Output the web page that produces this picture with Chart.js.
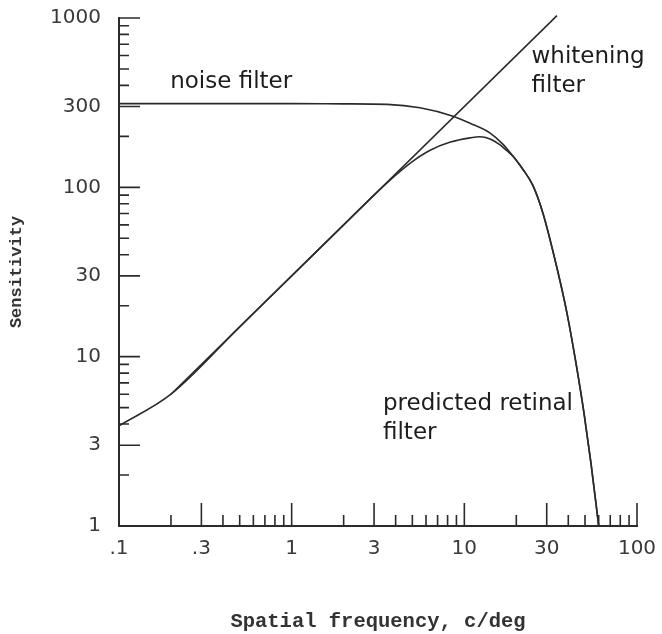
<!DOCTYPE html>
<html>
<head>
<meta charset="utf-8">
<script src="https://cdn.jsdelivr.net/npm/chart.js@4/dist/chart.umd.min.js"></script>
<style>
  html, body { margin: 0; padding: 0; background: #fff; }
  #wrap { width: 662px; height: 634px; }
</style>
</head>
<body>
<div id="wrap"><canvas id="filters" width="662" height="634"></canvas></div>
<script>
'use strict'

// spatial frequency (c/deg) and sensitivity
const retinalFreq = [0.1, 0.2, 0.5, 1, 2, 3, 4, 5, 6.3, 8.3, 10.8, 12.3, 14.1, 16.1, 17.7, 19.1, 21.8, 24.9, 28.5, 34.4, 39.3, 44.3, 49.3, 54.1, 60]
const retinalSens = [3.9, 6.0, 15, 30, 60, 90, 118, 142, 165, 185, 196, 199, 193, 178, 164, 153, 128, 103, 70.6, 33.4, 18.1, 9.18, 4.65, 2.36, 1.0]

const noiseFreq = [0.1, 1, 2, 3.57, 5.54, 8.6, 10.8, 14.1, 16.7, 19.1, 21.8, 24.9, 28.5, 34.4, 39.3, 44.3, 49.3, 54.1, 60]
const noiseSens = [312, 312, 311, 309, 295, 263, 239, 209, 180, 153, 128, 103, 70.6, 33.4, 18.1, 9.18, 4.65, 2.36, 1.0]

const whiteFreq = [0.2, 34.4]
const whiteSens = [6, 1032]

// axis labels
const xTicks = [0.1, 0.3, 1, 3, 10, 30, 100]
const xLabels = ['.1', '.3', '1', '3', '10', '30', '100']
const yTicks = [1, 3, 10, 30, 100, 300, 1000]
const yLabels = ['1', '3', '10', '30', '100', '300', '1000']

const toPoints = (xs, ys) => xs.map((x, i) => ({ x: x, y: ys[i] }))

const ink = '#2b2b2b'
const tickFont = { family: 'DejaVu Sans', size: 20 }
const noteFont = '23px "DejaVu Sans"'

// minor ticks on each decade, majors at 1 and 3
function logTicks(min, max) {
  const out = []
  for (let d = min; d < max * 1.001; d *= 10) {
    for (let m = 1; m <= 9; m++) {
      const v = d * m
      if (v > max * 1.001) break
      out.push({ v: v, major: m === 1 || m === 3 })
    }
  }
  return out
}

// tick marks pointing into the plot
const inwardTicks = {
  id: 'inwardTicks',
  afterDatasetsDraw(chart) {
    const { ctx, chartArea, scales } = chart
    ctx.save()
    ctx.strokeStyle = ink
    ctx.lineWidth = 1.6
    ctx.beginPath()
    logTicks(0.1, 100).forEach(t => {
      const px = scales.x.getPixelForValue(t.v)
      const len = t.major ? 23 : 11
      ctx.moveTo(px, chartArea.bottom)
      ctx.lineTo(px, chartArea.bottom - len)
    })
    logTicks(1, 1000).forEach(t => {
      const py = scales.y.getPixelForValue(t.v)
      const len = t.major ? 21 : 10
      ctx.moveTo(chartArea.left, py)
      ctx.lineTo(chartArea.left + len, py)
    })
    ctx.stroke()
    ctx.restore()
  }
}

// curve names, anchored in data coordinates
const notes = [
  { lines: ['noise filter'], x: 0.198, y: 386 },
  { lines: ['whitening', 'filter'], x: 24.5, y: 543 },
  { lines: ['predicted retinal', 'filter'], x: 3.38, y: 4.84 }
]

const curveNotes = {
  id: 'curveNotes',
  afterDraw(chart) {
    const { ctx, scales } = chart
    ctx.save()
    ctx.font = noteFont
    ctx.fillStyle = '#1c1c1c'
    ctx.textAlign = 'left'
    ctx.textBaseline = 'alphabetic'
    notes.forEach(n => {
      const px = scales.x.getPixelForValue(n.x)
      const py = scales.y.getPixelForValue(n.y)
      n.lines.forEach((line, i) => ctx.fillText(line, px, py + i * 29))
    })
    ctx.restore()
  }
}

const lineStyle = {
  borderColor: ink,
  borderWidth: 1.6,
  pointRadius: 0,
  fill: false
}

new Chart(document.getElementById('filters'), {
  type: 'line',
  data: {
    datasets: [
      { ...lineStyle, label: 'noise filter', data: toPoints(noiseFreq, noiseSens), cubicInterpolationMode: 'monotone' },
      { ...lineStyle, label: 'predicted retinal filter', data: toPoints(retinalFreq, retinalSens), cubicInterpolationMode: 'monotone' },
      { ...lineStyle, label: 'whitening filter', data: toPoints(whiteFreq, whiteSens), clip: false }
    ]
  },
  options: {
    responsive: false,
    animation: false,
    events: [],
    layout: { padding: { top: 18, right: 25, left: 0, bottom: 0 } },
    plugins: {
      legend: { display: false },
      tooltip: { enabled: false }
    },
    scales: {
      x: {
        type: 'logarithmic',
        min: 0.1,
        max: 100,
        afterBuildTicks: s => { s.ticks = xTicks.map(v => ({ value: v })) },
        afterFit: s => {
          s.height = 108
          s.paddingLeft = 0
          s.paddingRight = 0
        },
        grid: { display: false, drawTicks: false },
        border: { display: true, color: ink, width: 2 },
        ticks: {
          autoSkip: false,
          maxRotation: 0,
          padding: 11,
          color: '#3a3a3a',
          font: tickFont,
          callback: (val, i) => xLabels[i]
        },
        title: {
          display: true,
          text: 'Spatial frequency, c/deg',
          color: '#333',
          font: { family: 'Liberation Mono', size: 20.5, weight: 'bold' },
          padding: { top: 0, bottom: 0 }
        }
      },
      y: {
        type: 'logarithmic',
        min: 1,
        max: 1000,
        afterBuildTicks: s => { s.ticks = yTicks.map(v => ({ value: v })) },
        afterFit: s => {
          s.width = 119
          s.paddingTop = 0
          s.paddingBottom = 0
        },
        grid: { display: false, drawTicks: false },
        border: { display: true, color: ink, width: 2 },
        ticks: {
          autoSkip: false,
          padding: 18,
          color: '#3a3a3a',
          font: tickFont,
          callback: (val, i) => yLabels[i]
        },
        title: {
          display: true,
          text: 'Sensitivity',
          color: '#333',
          font: { family: 'Liberation Mono', size: 17, weight: 'bold' },
          padding: { top: 7, bottom: 0 }
        }
      }
    }
  },
  plugins: [inwardTicks, curveNotes]
})
</script>
</body>
</html>
